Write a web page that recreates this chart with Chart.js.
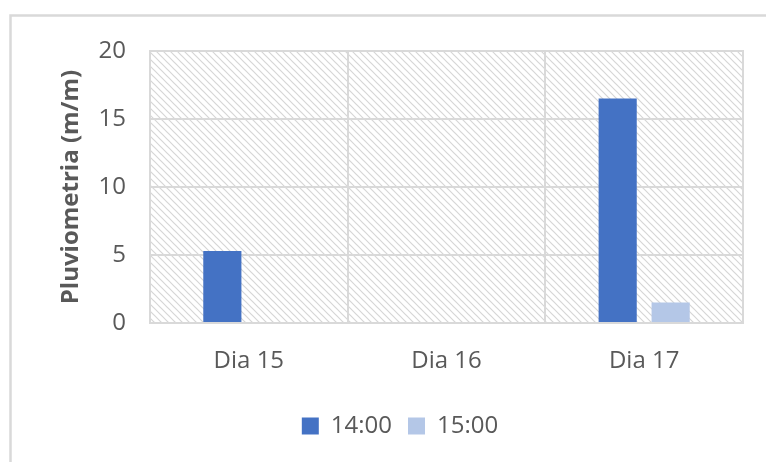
<!DOCTYPE html>
<html>
<head>
<meta charset="utf-8">
<script src="https://cdn.jsdelivr.net/npm/chart.js@4"></script>
<style>
  html, body { margin: 0; padding: 0; background: #fff; }
  #wrap { width: 766px; height: 462px; position: relative; }
</style>
</head>
<body>
<div id="wrap"><canvas id="rainChart"></canvas></div>
<script>
const categories = ['Dia 15', 'Dia 16', 'Dia 17'];
const seriesLabels = ['14:00', '15:00'];
const values1400 = [5.3, 0, 16.5];
const values1500 = [0, 0, 1.5];
const yTicks = [0, 5, 10, 15, 20];

const textColor = '#595959';
const gridColor = '#d9d9d9';

// diagonal hatch for the plot background
const makeHatch = () => {
  const c = document.createElement('canvas');
  c.width = 7; c.height = 7;
  const g = c.getContext('2d');
  g.fillStyle = '#ffffff';
  g.fillRect(0, 0, 7, 7);
  g.strokeStyle = '#d6d6d6';
  g.lineWidth = 1.2;
  g.beginPath();
  g.moveTo(-1, -1); g.lineTo(8, 8);
  g.moveTo(-1, 6); g.lineTo(1, 8);
  g.moveTo(6, -1); g.lineTo(8, 1);
  g.stroke();
  return g.createPattern(c, 'repeat');
};

const backdrop = {
  id: 'backdrop',
  beforeDraw(chart) {
    const { ctx, chartArea: a } = chart;
    ctx.save();
    // outer frame
    ctx.strokeStyle = gridColor;
    ctx.lineWidth = 2.5;
    ctx.strokeRect(10.5, 15.5, 800, 500);
    // hatched plot area
    ctx.fillStyle = makeHatch();
    ctx.fillRect(a.left, a.top, a.right - a.left, a.bottom - a.top);
    ctx.restore();
  },
  afterDatasetsDraw(chart) {
    const { ctx, chartArea: a } = chart;
    ctx.save();
    ctx.strokeStyle = gridColor;
    ctx.lineWidth = 2;
    ctx.strokeRect(a.left, a.top, a.right - a.left, a.bottom - a.top);
    ctx.restore();
  }
};

new Chart(document.getElementById('rainChart'), {
  type: 'bar',
  data: {
    labels: categories,
    datasets: [
      {
        label: seriesLabels[0],
        data: values1400,
        backgroundColor: '#4472c4',
        categoryPercentage: 0.536,
        barPercentage: 0.72
      },
      {
        label: seriesLabels[1],
        data: values1500,
        backgroundColor: '#b4c7e7',
        categoryPercentage: 0.536,
        barPercentage: 0.72
      }
    ]
  },
  options: {
    responsive: true,
    maintainAspectRatio: false,
    animation: false,
    layout: { padding: { top: 51, right: 23, left: 57, bottom: 14 } },
    plugins: {
      tooltip: { enabled: false },
      legend: {
        position: 'bottom',
        labels: {
          color: textColor,
          font: { family: 'Open Sans', size: 24 },
          boxWidth: 17,
          boxHeight: 17,
          padding: 16
        }
      }
    },
    scales: {
      y: {
        min: 0,
        max: 20,
        afterBuildTicks: (axis) => { axis.ticks = yTicks.map(v => ({ value: v })); },
        afterFit: (axis) => { axis.width = 93; },
        border: { display: false },
        grid: { color: gridColor, lineWidth: 2, drawTicks: false },
        ticks: {
          color: textColor,
          font: { family: 'Open Sans', size: 24 },
          padding: 24
        },
        title: {
          display: true,
          text: 'Pluviometria (m/m)',
          color: textColor,
          font: { family: 'Open Sans', size: 24, weight: 'bold' },
          padding: { top: 0, bottom: 0 }
        }
      },
      x: {
        afterFit: (axis) => { axis.height = 75; },
        border: { display: false },
        grid: { color: gridColor, lineWidth: 2, drawTicks: false },
        ticks: {
          color: textColor,
          font: { family: 'Open Sans', size: 24 },
          padding: 24
        }
      }
    }
  },
  plugins: [backdrop]
});
</script>
</body>
</html>
